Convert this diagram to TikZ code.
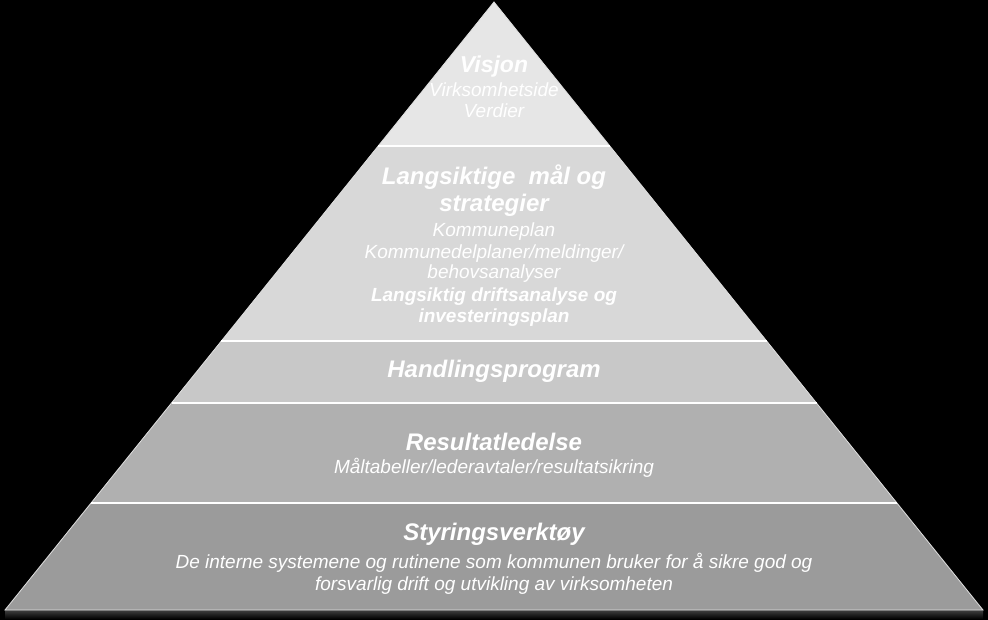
\documentclass[tikz,border=0pt]{standalone}
\usepackage{fontspec}
\setmainfont{Liberation Sans}
\usetikzlibrary{calc}

\definecolor{layerA}{HTML}{E6E6E6}
\definecolor{layerB}{HTML}{D8D8D8}
\definecolor{layerC}{HTML}{C8C8C8}
\definecolor{layerD}{HTML}{B0B0B0}
\definecolor{layerE}{HTML}{9B9B9B}

\newcommand{\drawLayer}[3]{
	\fill[#3] ($(Apex)!#1!(Base_L)$) -- ($(Apex)!#1!(Base_R)$)
		-- ($(Apex)!#2!(Base_R)$) -- ($(Apex)!#2!(Base_L)$) -- cycle;
}
\newcommand{\drawSplit}[1]{
	\draw[white, line width=1.6pt] ($(Apex)!#1!(Base_L)$) -- ($(Apex)!#1!(Base_R)$);
}

\tikzset{
	heading/.style={text=white, anchor=base, inner sep=0pt,
		font=\fontsize{24}{26}\selectfont\bfseries\itshape},
	subline/.style={text=white, anchor=base, inner sep=0pt,
		font=\fontsize{19}{21}\selectfont\itshape},
	subbold/.style={subline, font=\fontsize{19}{21}\selectfont\bfseries\itshape}
}

\begin{document}
\begin{tikzpicture}[x=1pt, y=-1pt]
		\fill[black] (0,0) rectangle (988,620);
		\useasboundingbox (0,0) rectangle (988,620);

		\coordinate (Apex) at (494,2);
		\coordinate (Base_L) at (5,610);
		\coordinate (Base_R) at (983,610);

		% shadow under the pyramid
		\shade[top color=black!75!white, bottom color=black] (Base_L) rectangle ($(Base_R)+(0,9)$);

		\drawLayer{0}{0.2368}{layerA}
		\drawLayer{0.2368}{0.5576}{layerB}
		\drawLayer{0.5576}{0.6595}{layerC}
		\drawLayer{0.6595}{0.8240}{layerD}
		\drawLayer{0.8240}{1}{layerE}

		\draw[white!75!gray, line width=0.8pt] (Apex) -- (Base_R) -- (Base_L) -- cycle;
		\drawSplit{0.2368}
		\drawSplit{0.5576}
		\drawSplit{0.6595}
		\drawSplit{0.8240}

		\node[heading, font=\fontsize{23}{25}\selectfont\bfseries\itshape] (visjon) at (494,73) {Visjon};
		\node[subline] (visjonIde) at (494,97) {Virksomhetside};
		\node[subline] (visjonVerdi) at (494,118) {Verdier};

		\node[heading] (maal) at (494,185) {Langsiktige\ \ mål og};
		\node[heading] (maalStrat) at (494,212) {strategier};
		\node[subline] (maalPlan) at (494,237) {Kommuneplan};
		\node[subline] (maalDel) at (494,259) {Kommunedelplaner/meldinger/};
		\node[subline] (maalBehov) at (494,279) {behovsanalyser};
		\node[subbold] (maalDrift) at (494,302) {Langsiktig driftsanalyse og};
		\node[subbold] (maalInv) at (494,323) {investeringsplan};

		\node[heading] (handling) at (494,377) {Handlingsprogram};

		\node[heading] (resultat) at (494,450) {Resultatledelse};
		\node[subline] (resultatSub) at (494,473) {Måltabeller/lederavtaler/resultatsikring};

		\node[heading] (styring) at (494,540) {Styringsverktøy};
		\node[subline] (styringSub1) at (494,568) {De interne systemene og rutinene som kommunen bruker for å sikre god og};
		\node[subline] (styringSub2) at (494,590) {forsvarlig drift og utvikling av virksomheten};

	\end{tikzpicture}
\end{document}
